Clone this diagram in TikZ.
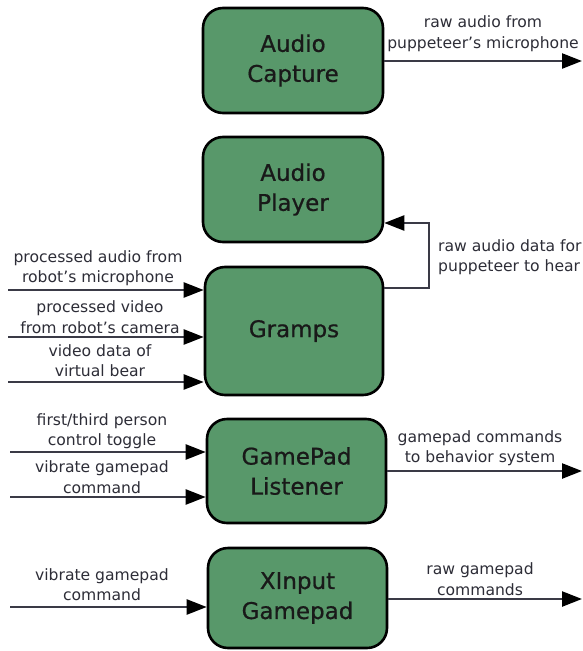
\documentclass[tikz,border=0pt]{standalone}
\usepackage{fontspec}
\setmainfont{DejaVu Sans}
\newfontfamily\titlefont[FakeBold=0.7]{DejaVu Sans}
\usetikzlibrary{arrows.meta}
\definecolor{boxgreen}{RGB}{88,152,106}
\definecolor{linegray}{RGB}{58,58,70}
\definecolor{labelgray}{RGB}{45,45,55}
\newcommand{\apo}{\char"27\relax}
\begin{document}
\begin{tikzpicture}[x=1pt,y=-1pt,
  blockbox/.style={draw=black,line width=2.6pt,fill=boxgreen,rounded corners=20pt,
    align=center,inner sep=0pt,font=\titlefont\fontsize{23}{30}\selectfont,text=black!90},
  flow/.style={draw=linegray,line width=2.4pt,-{Triangle[length=20pt,width=15pt,color=black]}},
  lbl/.style={align=center,inner sep=0pt,text=labelgray,font=\fontsize{15.6}{20.5}\selectfont}]
\useasboundingbox (0,0) rectangle (583,651);
\fill[white] (0,0) rectangle (583,651);

% blocks
\node[blockbox,minimum width=180pt,minimum height=105pt] (ac) at (293,60.5) {Audio\\Capture};
\node[blockbox,minimum width=180pt,minimum height=105pt] (ap) at (293,189.5) {Audio\\Player};
\node[blockbox,minimum width=178pt,minimum height=128pt] (gr) at (294,331) {Gramps};
\node[blockbox,minimum width=179pt,minimum height=104pt] (gp) at (296.5,471) {GamePad\\Listener};
\node[blockbox,minimum width=179pt,minimum height=100pt] (xi) at (297.5,598) {XInput\\Gamepad};

% free ends
\coordinate (acout) at (582,61);
\coordinate (gpout) at (582,471);
\coordinate (xiout) at (582,599);
\coordinate (in1) at (8,290);
\coordinate (in2) at (8,337);
\coordinate (in3) at (8,382);
\coordinate (in4) at (10,452);
\coordinate (in5) at (10,497);
\coordinate (in6) at (10,607);

% connectors
\draw[flow] (ac.east |- acout) -- (acout);
\draw[flow] (gr.east |- 0,288) -- (429,288) -- (429,223) -- (ap.east |- 0,223);
\draw[flow] (in1) -- (gr.west |- in1);
\draw[flow] (in2) -- (gr.west |- in2);
\draw[flow] (in3) -- (gr.west |- in3);
\draw[flow] (in4) -- (gp.west |- in4);
\draw[flow] (in5) -- (gp.west |- in5);
\draw[flow] (gp.east |- gpout) -- (gpout);
\draw[flow] (in6) -- (xi.west |- in6);
\draw[flow] (xi.east |- xiout) -- (xiout);

% labels
\node[lbl] (l1) at (483,33.5) {raw audio from\\puppeteer\apo s microphone};
\node[lbl,anchor=west,align=left] (l2) at (438,257) {raw audio data for\\puppeteer to hear};
\node[lbl] (l3) at (98,268) {processed audio from\\robot\apo s microphone};
\node[lbl] (l4) at (100,317) {processed video\\from robot\apo s camera};
\node[lbl] (l5) at (100,360.5) {video data of\\virtual bear};
\node[lbl] (l6) at (102,431) {first/third person\\control toggle};
\node[lbl] (l7) at (102,477) {vibrate gamepad\\command};
\node[lbl] (l8) at (480,448) {gamepad commands\\to behavior system};
\node[lbl] (l9) at (102,584.5) {vibrate gamepad\\command};
\node[lbl] (l10) at (480,579) {raw gamepad\\commands};
\end{tikzpicture}
\end{document}
